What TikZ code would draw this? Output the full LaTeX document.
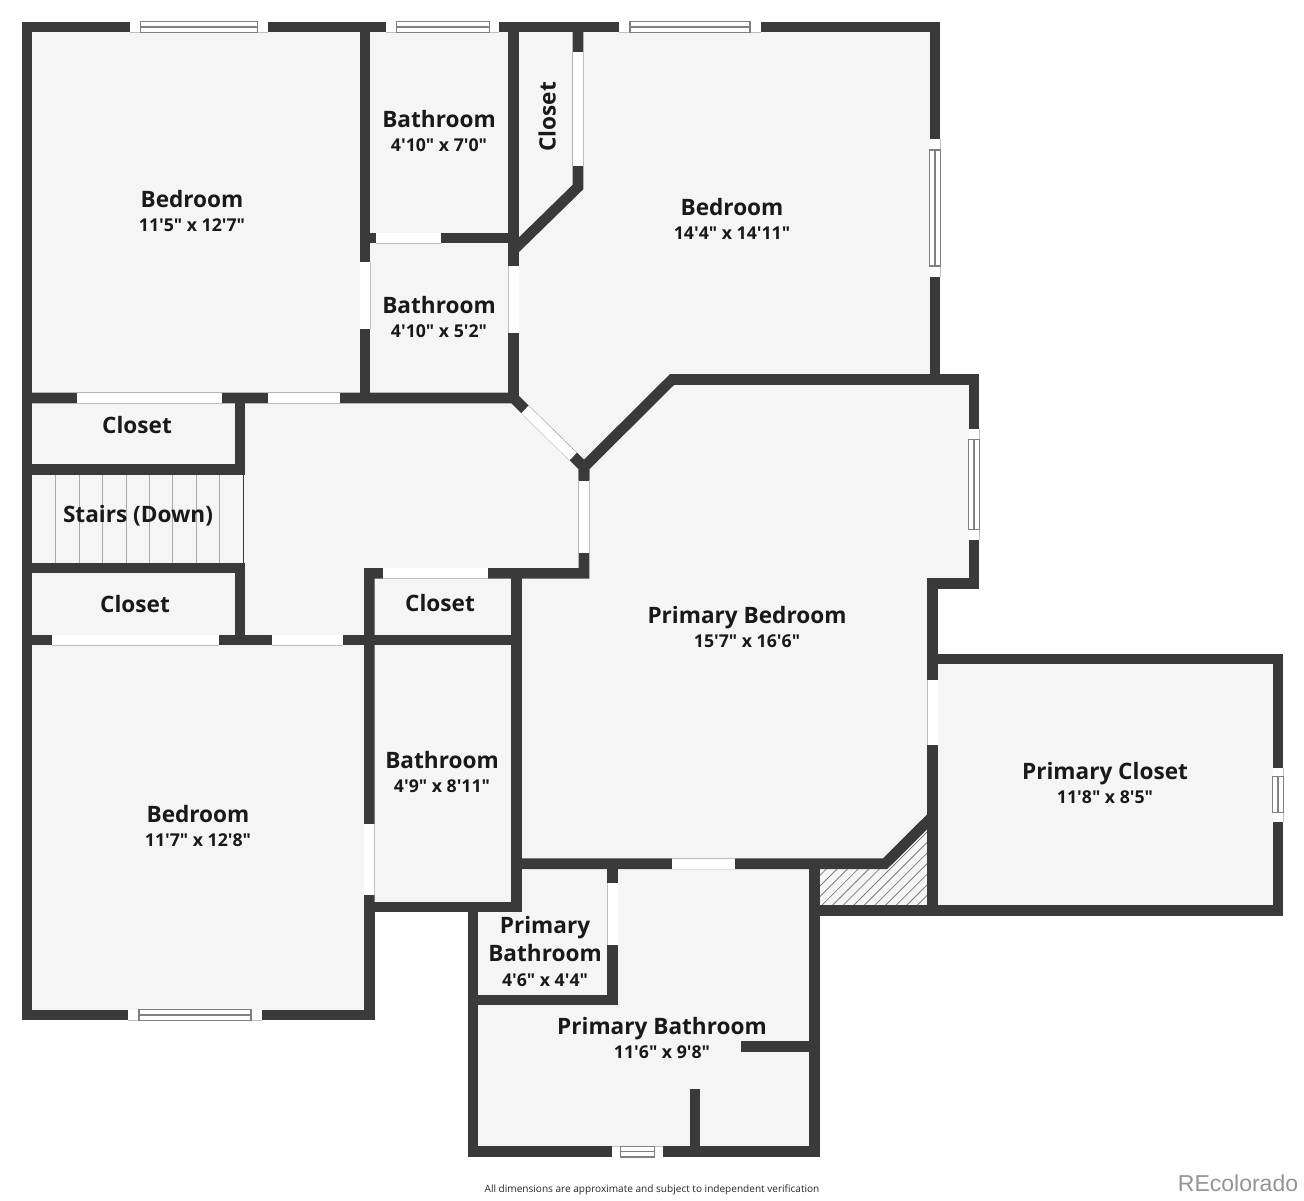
\documentclass[tikz,border=0pt]{standalone}
\usepackage{fontspec}
\newfontfamily\planfont{Open Sans}
\newfontfamily\markfont{Liberation Sans}
\definecolor{wallgray}{HTML}{3A3A3A}
\definecolor{floorgray}{HTML}{F5F5F5}
\tikzset{
    wall/.style={draw=wallgray, line width=5.3pt, miter limit=10},
    door/.style={draw={rgb:black,1;white,3}, line width=0.25pt, double=white, double distance=5pt},
    glass/.style={draw={rgb:black,1;white,1}, line width=0.7pt},
    tread/.style={draw={rgb:black,1;white,2}, line width=0.45pt},
    hatchline/.style={draw={rgb:black,1;white,1}, line width=0.4pt},
    roomname/.style={font=\planfont\bfseries\fontsize{11.3}{13}\selectfont, text=black!90, inner sep=0pt, text height=8.5pt, text depth=0pt},
    roomsize/.style={font=\planfont\bfseries\fontsize{8.85}{11}\selectfont, text=black!90, inner sep=0pt, text height=7.2pt, text depth=0pt}
}
\begin{document}
\begin{tikzpicture}[x=0.5pt, y=-0.5pt]
        \useasboundingbox (0, 0) rectangle (1304, 1200);
        % floor
        \fill[floorgray] (27, 27) -- (935, 27) -- (935, 379.5) -- (974, 379.5) -- (974, 583.5) -- (932.5, 583.5) -- (932.5, 659) -- (1278, 659) -- (1278, 910.5) -- (814.7, 910.5) -- (814.7, 1151.5) -- (473, 1151.5) -- (473, 907) -- (369.3, 907) -- (369.3, 1015) -- (27, 1015) -- cycle;
        % hatched part
        \begin{scope}
            \clip (820, 869) -- (887, 869) -- (927, 829) -- (927, 905.5) -- (820, 905.5) -- cycle;
            \draw[hatchline] (789.3, 906) -- (869.3, 826);
            \draw[hatchline] (799.9, 906) -- (879.9, 826);
            \draw[hatchline] (810.5, 906) -- (890.5, 826);
            \draw[hatchline] (821.1, 906) -- (901.1, 826);
            \draw[hatchline] (831.7, 906) -- (911.7, 826);
            \draw[hatchline] (842.3, 906) -- (922.3, 826);
            \draw[hatchline] (852.9, 906) -- (932.9, 826);
            \draw[hatchline] (863.5, 906) -- (943.5, 826);
            \draw[hatchline] (874.1, 906) -- (954.1, 826);
            \draw[hatchline] (884.7, 906) -- (964.7, 826);
            \draw[hatchline] (895.3, 906) -- (975.3, 826);
            \draw[hatchline] (905.9, 906) -- (985.9, 826);
            \draw[hatchline] (916.5, 906) -- (996.5, 826);
            \draw[hatchline] (927.1, 906) -- (1007.1, 826);
        \end{scope}
        % stairs treads from left to right
        \draw[tread] (55.7, 474) -- (55.7, 563);
        \draw[tread] (79.2, 474) -- (79.2, 563);
        \draw[tread] (102.7, 474) -- (102.7, 563);
        \draw[tread] (126, 474) -- (126, 563);
        \draw[tread] (149.4, 474) -- (149.4, 563);
        \draw[tread] (172.8, 474) -- (172.8, 563);
        \draw[tread] (196.3, 474) -- (196.3, 563);
        \draw[tread] (219.7, 474) -- (219.7, 563);
        \draw[draw=wallgray, line width=0.6pt] (243.7, 474) -- (243.7, 563);
        % outer walls
        \draw[wall] (27, 27) -- (935, 27) -- (935, 379.5) -- (974, 379.5) -- (974, 583.5) -- (932.5, 583.5) -- (932.5, 659) -- (1278, 659) -- (1278, 910.5) -- (814.7, 910.5) -- (814.7, 1151.5) -- (473, 1151.5) -- (473, 907) -- (369.3, 907) -- (369.3, 1015) -- (27, 1015) -- cycle;
        % inner walls
        \draw[wall] (365, 27) -- (365, 398);
        \draw[wall] (513.5, 27) -- (513.5, 398);
        \draw[wall] (365, 238) -- (513.5, 238);
        \draw[wall] (578, 27) -- (578, 187) -- (513.5, 250);
        \draw[wall] (27, 398) -- (513.5, 398) -- (584, 467) -- (584, 573.3) -- (369.3, 573.3) -- (369.3, 907);
        \draw[wall] (584, 480) -- (584, 467) -- (672, 379.5) -- (974, 379.5);
        \draw[wall] (240, 398) -- (240, 474.7);
        \draw[wall] (240, 562.7) -- (240, 640);
        \draw[wall] (27, 469.5) -- (245.3, 469.5);
        \draw[wall] (27, 568) -- (245.3, 568);
        \draw[wall] (27, 640) -- (521.6, 640);
        \draw[wall] (516.3, 573.3) -- (516.3, 912.3);
        \draw[wall] (369.3, 907) -- (521.6, 907);
        \draw[wall] (516.3, 863.7) -- (885, 863.7) -- (932, 817);
        \draw[wall] (932.5, 659) -- (932.5, 910.5);
        \draw[wall] (814.7, 863.7) -- (814.7, 910.5);
        \draw[wall] (612.7, 863.7) -- (612.7, 1000) -- (473, 1000);
        \draw[wall] (741, 1046.7) -- (814.7, 1046.7);
        \draw[wall] (695, 1088.7) -- (695, 1151.5);
        % doors
        \draw[door] (76.7, 398) -- (222.3, 398);
        \draw[door] (267.7, 398) -- (340, 398);
        \draw[door] (376, 238) -- (440.7, 238);
        \draw[door] (365, 261.7) -- (365, 329);
        \draw[door] (513.5, 266) -- (513.5, 332.7);
        \draw[door] (578, 51.7) -- (578, 166);
        \draw[door] (525, 409.5) -- (573, 456.5);
        \draw[door] (584, 481) -- (584, 552.7);
        \draw[door] (383.3, 573.3) -- (487.7, 573.3);
        \draw[door] (51.7, 640) -- (219.3, 640);
        \draw[door] (271.7, 640) -- (342.7, 640);
        \draw[door] (369.3, 824.3) -- (369.3, 895);
        \draw[door] (932.5, 680) -- (932.5, 745);
        \draw[door] (671.7, 863.7) -- (735, 863.7);
        \draw[door] (612.7, 883.3) -- (612.7, 945);
        % windows
        \draw[door] (130, 27) -- (268.3, 27);
        \draw[glass] (140.7, 21.7) rectangle (257.3, 32.3);
        \draw[glass] (140.7, 27) -- (257.3, 27);
        \draw[door] (386, 27) -- (499.3, 27);
        \draw[glass] (396.7, 21.7) rectangle (489.3, 32.3);
        \draw[glass] (396.7, 27) -- (489.3, 27);
        \draw[door] (619.3, 27) -- (760.7, 27);
        \draw[glass] (630, 21.7) rectangle (750, 32.3);
        \draw[glass] (630, 27) -- (750, 27);
        \draw[door] (935, 139) -- (935, 276.7);
        \draw[glass] (929.7, 150) rectangle (940.3, 266);
        \draw[glass] (935, 150) -- (935, 266);
        \draw[door] (974, 429) -- (974, 540);
        \draw[glass] (968.7, 439.3) rectangle (979.3, 529.3);
        \draw[glass] (974, 439.3) -- (974, 529.3);
        \draw[door] (1278, 767.7) -- (1278, 821.7);
        \draw[glass] (1272.7, 776.7) rectangle (1283.3, 812.3);
        \draw[glass] (1278, 776.7) -- (1278, 812.3);
        \draw[door] (128, 1015) -- (262, 1015);
        \draw[glass] (139, 1009.7) rectangle (251, 1020.3);
        \draw[glass] (139, 1015) -- (251, 1015);
        \draw[door] (612, 1151.5) -- (662.7, 1151.5);
        \draw[glass] (620.7, 1146.2) rectangle (654.7, 1156.8);
        \draw[glass] (620.7, 1151.5) -- (654.7, 1151.5);
        % labels
        \node[roomname] (bedroomA) at (192, 199) {Bedroom};
        \node[roomsize] (bedroomAsize) at (192, 224) {11'5" x 12'7"};
        \node[roomname] (bathA) at (439, 119) {Bathroom};
        \node[roomsize] (bathAsize) at (439, 144) {4'10" x 7'0"};
        \node[roomname] (bathB) at (439, 305) {Bathroom};
        \node[roomsize] (bathBsize) at (439, 330) {4'10" x 5'2"};
        \node[roomname, rotate=90] (closetA) at (547, 117) {Closet};
        \node[roomname] (bedroomB) at (732, 207) {Bedroom};
        \node[roomsize] (bedroomBsize) at (732, 232) {14'4" x 14'11"};
        \node[roomname] (closetB) at (137, 425) {Closet};
        \node[roomname] (stairs) at (138, 514) {Stairs (Down)};
        \node[roomname] (closetC) at (135, 604) {Closet};
        \node[roomname] (closetD) at (440, 603) {Closet};
        \node[roomname] (primaryBed) at (747, 615) {Primary Bedroom};
        \node[roomsize] (primaryBedsize) at (747, 640) {15'7" x 16'6"};
        \node[roomname] (primaryCloset) at (1105, 771) {Primary Closet};
        \node[roomsize] (primaryClosetsize) at (1105, 796) {11'8" x 8'5"};
        \node[roomname] (bathC) at (442, 760) {Bathroom};
        \node[roomsize] (bathCsize) at (442, 785) {4'9" x 8'11"};
        \node[roomname] (bedroomC) at (198, 814) {Bedroom};
        \node[roomsize] (bedroomCsize) at (198, 839) {11'7" x 12'8"};
        \node[roomname] (primaryBathA) at (545, 925) {Primary};
        \node[roomname] (primaryBathB) at (545, 953) {Bathroom};
        \node[roomsize] (primaryBathsize) at (545, 979) {4'6" x 4'4"};
        \node[roomname] (primaryBathC) at (662, 1026) {Primary Bathroom};
        \node[roomsize] (primaryBathCsize) at (662, 1051) {11'6" x 9'8"};
        \node[font=\planfont\fontsize{5.03}{6}\selectfont, text=black!85, inner sep=0pt] (note) at (652, 1190) {All dimensions are approximate and subject to independent verification};
        \node[font=\markfont\fontsize{11.5}{13}\selectfont, text=black!42, inner sep=0pt] (brand) at (1238, 1183) {REcolorado};
    \end{tikzpicture}
\end{document}
